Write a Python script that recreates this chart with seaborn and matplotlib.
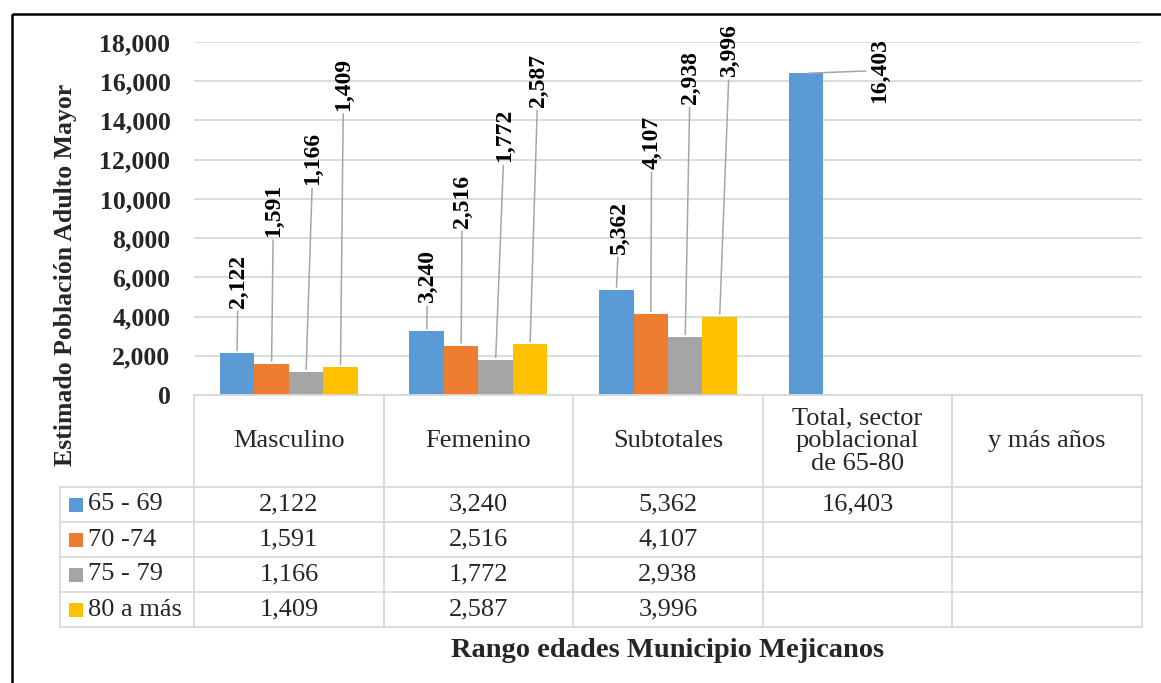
import numpy as np
import pandas as pd
import matplotlib
matplotlib.use("Agg")
import matplotlib.pyplot as plt
from matplotlib.patches import Rectangle
import seaborn as sns

categories = ["Masculino", "Femenino", "Subtotales",
              "Total, sector\npoblacional\nde 65-80", "y más años"]
series = ["65 - 69", "70 -74", "75 - 79", "80 a más"]
colors = ["#5B9BD5", "#ED7D31", "#A5A5A5", "#FFC000"]

v_65_69 = [2122, 3240, 5362, 16403, np.nan]
v_70_74 = [1591, 2516, 4107, np.nan, np.nan]
v_75_79 = [1166, 1772, 2938, np.nan, np.nan]
v_80_mas = [1409, 2587, 3996, np.nan, np.nan]

yticks = list(range(0, 18001, 2000))

# where the rotated data labels sit (centre, data units) and their sideways nudge
label_y = [
    [5790, 6045, 8540, 16550],
    [9435, 9870, 12880],
    [12060, 13235, 16190],
    [15860, 16040, 17570],
]
label_dx = [
    [0.005, 0.005, 0.016, 0.39],
    [0.01, 0.005, 0.005],
    [0.037, 0.047, 0.026],
    [0.016, 0.042, 0.053],
]

values = [v_65_69, v_70_74, v_75_79, v_80_mas]
df = pd.DataFrame({
    "categoria": categories * len(series),
    "rango": np.repeat(series, len(categories)),
    "estimado": np.concatenate(values),
})

sns.set_style("white")
plt.rcParams["font.family"] = ["Liberation Serif", "DejaVu Serif"]

W, H = 1161, 683
fig = plt.figure(figsize=(W / 100, H / 100), dpi=100)

# background axes in pixel units: frame, table, titles
bg = fig.add_axes([0, 0, 1, 1])
bg.set_xlim(0, W)
bg.set_ylim(H, 0)
bg.axis("off")

L, R, T, B = 194, 1142, 42, 395
ax = fig.add_axes([L / W, 1 - B / H, (R - L) / W, (B - T) / H])
ax.set_facecolor("none")

sns.barplot(data=df, x="categoria", y="estimado", hue="rango",
            order=categories, hue_order=series, palette=colors,
            width=0.727, errorbar=None, legend=False, saturation=1,
            linewidth=0, ax=ax)

ax.set_xlim(-0.5, len(categories) - 0.5)
ax.set_ylim(0, 18000)
ax.set_yticks(yticks)
ax.set_yticklabels([f"{t:,}" for t in yticks])
plt.setp(ax.get_yticklabels(), fontweight="bold", fontsize=18.5)
ax.tick_params(axis="y", length=0, pad=17)
ax.set_xticks([])
ax.set_xlabel("")
ax.set_ylabel("")
ax.grid(axis="y", color="#d9d9d9", lw=1.3)
ax.set_axisbelow(True)
for s in ["left", "right", "top"]:
    ax.spines[s].set_visible(False)
ax.spines["bottom"].set_color("#d9d9d9")
ax.spines["bottom"].set_linewidth(1.3)

# data labels with leader lines
for j, cont in enumerate(ax.containers):
    for bar in cont:
        h = bar.get_height()
        if np.isnan(h):
            continue
        xc = bar.get_x() + bar.get_width() / 2
        i = int(round(xc))
        ax.annotate(f"{h:,.0f}", xy=(xc, h),
                    xytext=(xc + label_dx[j][i], label_y[j][i]),
                    rotation=90, ha="center", va="center",
                    fontsize=17, fontweight="bold", color="black",
                    arrowprops=dict(arrowstyle="-", color="#a6a6a6", lw=1.1,
                                    shrinkA=0, shrinkB=2),
                    annotation_clip=False)

# data table under the axis
fig.canvas.draw()
edges = [ax.transData.transform((k - 0.5, 0))[0] for k in range(len(categories) + 1)]
grid_c = "#d9d9d9"
head_bot, row_h, row_left = 487, 35, 60
rows_y = [head_bot + k * row_h for k in range(len(series) + 1)]

for y in rows_y:
    bg.plot([row_left, edges[-1]], [y, y], color=grid_c, lw=1.3)
bg.plot([row_left, row_left], [head_bot, rows_y[-1]], color=grid_c, lw=1.3)
for x in edges:
    bg.plot([x, x], [B, rows_y[-1]], color=grid_c, lw=1.3)

for i, cat in enumerate(categories):
    xc = (edges[i] + edges[i + 1]) / 2
    bg.text(xc, (B + head_bot) / 2, cat, ha="center", va="center",
            fontsize=19, linespacing=1.05)

for j, name in enumerate(series):
    yc = rows_y[j] + row_h / 2
    bg.add_patch(Rectangle((69, yc - 7), 14, 14, color=colors[j], lw=0))
    bg.text(88, yc, name, ha="left", va="center", fontsize=19)
    for i in range(len(categories)):
        v = values[j][i]
        if np.isnan(v):
            continue
        xc = (edges[i] + edges[i + 1]) / 2
        bg.text(xc, yc, f"{v:,.0f}", ha="center", va="center", fontsize=19)

bg.text((L + R) / 2, 657, "Rango edades Municipio Mejicanos", ha="center",
        va="baseline", fontsize=20.5, fontweight="bold")
bg.text(66, 275, "Estimado Población Adulto Mayor", rotation=90, ha="center",
        va="center", fontsize=18.5, fontweight="bold")

bg.add_patch(Rectangle((12, 14), W, H, fill=False, ec="black", lw=1.8))

fig.savefig("out.png", dpi=100)
